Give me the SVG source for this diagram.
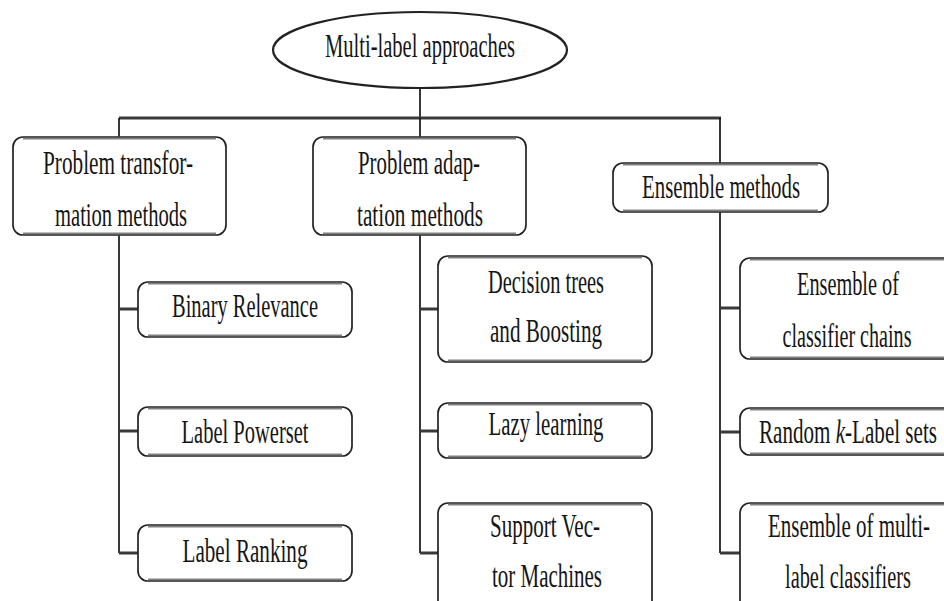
<svg xmlns="http://www.w3.org/2000/svg" width="944" height="601" viewBox="0 0 944 601">
<style>
.box{fill:#fff;stroke:#222;stroke-width:1.7}
.edge{stroke:#555;stroke-width:3.2;stroke-opacity:.75;fill:none}
.t{font-family:"Liberation Serif","DejaVu Serif",serif;font-size:34px;fill:#151515;text-anchor:middle}
.v{stroke:#151515;stroke-width:1.7;fill:none}
.h{stroke:#3a3a3a;stroke-width:3;fill:none}
</style>
<rect width="944" height="601" fill="#fff"/>
<g id="connectors">
<path class="v" d="M420 88V118"/>
<path class="h" d="M119 118H721"/>
<path class="v" d="M119 118V137M420 118V137M720 118V163"/>
<path class="v" d="M119 235V553M420 235V553M720 212V553"/>
<path class="h" d="M119 309H138M119 431H138M119 553H138"/>
<path class="h" d="M420 309H438M420 431H438M420 553H438"/>
<path class="h" d="M720 308H740M720 432H740M720 553H740"/>
</g>
<g id="root">
<ellipse cx="420" cy="50" rx="147" ry="38" fill="#fff" stroke="#222" stroke-width="2.2"/>
<text class="t" x="420" y="57" textLength="190" lengthAdjust="spacingAndGlyphs">Multi-label approaches</text>
</g>
<g id="problem-transformation">
<rect class="box" x="13" y="137" width="213" height="98" rx="10"/>
<path class="edge" d="M23 138H216M23 234H216"/>
<text class="t" x="118" y="174" textLength="150" lengthAdjust="spacingAndGlyphs">Problem transfor-</text>
<text class="t" x="121" y="226" textLength="132" lengthAdjust="spacingAndGlyphs">mation methods</text>
</g>
<g id="problem-adaptation">
<rect class="box" x="313" y="137" width="213" height="98" rx="10"/>
<path class="edge" d="M323 138H516M323 234H516"/>
<text class="t" x="419" y="174" textLength="122" lengthAdjust="spacingAndGlyphs">Problem adap-</text>
<text class="t" x="420" y="226" textLength="126" lengthAdjust="spacingAndGlyphs">tation methods</text>
</g>
<g id="ensemble-methods">
<rect class="box" x="613" y="163" width="215" height="49" rx="10"/>
<path class="edge" d="M623 164H818M623 211H818"/>
<text class="t" x="721" y="198" textLength="158" lengthAdjust="spacingAndGlyphs">Ensemble methods</text>
</g>
<g id="binary-relevance">
<rect class="box" x="138" y="282" width="214" height="55" rx="10"/>
<path class="edge" d="M148 283H342M148 336H342"/>
<text class="t" x="245" y="317" textLength="146" lengthAdjust="spacingAndGlyphs">Binary Relevance</text>
</g>
<g id="label-powerset">
<rect class="box" x="138" y="407" width="214" height="49" rx="10"/>
<path class="edge" d="M148 408H342M148 455H342"/>
<text class="t" x="245" y="443" textLength="127" lengthAdjust="spacingAndGlyphs">Label Powerset</text>
</g>
<g id="label-ranking">
<rect class="box" x="138" y="525" width="214" height="56" rx="10"/>
<path class="edge" d="M148 526H342M148 580H342"/>
<text class="t" x="245" y="562" textLength="125" lengthAdjust="spacingAndGlyphs">Label Ranking</text>
</g>
<g id="decision-trees">
<rect class="box" x="438" y="256" width="214" height="106" rx="10"/>
<path class="edge" d="M448 257H642M448 361H642"/>
<text class="t" x="546" y="293" textLength="116" lengthAdjust="spacingAndGlyphs">Decision trees</text>
<text class="t" x="546" y="342" textLength="112" lengthAdjust="spacingAndGlyphs">and Boosting</text>
</g>
<g id="lazy-learning">
<rect class="box" x="438" y="403" width="214" height="55" rx="10"/>
<path class="edge" d="M448 404H642M448 457H642"/>
<text class="t" x="546" y="435" textLength="115" lengthAdjust="spacingAndGlyphs">Lazy learning</text>
</g>
<g id="support-vector-machines">
<rect class="box" x="438" y="503" width="214" height="110" rx="10"/>
<path class="edge" d="M448 504H642"/>
<text class="t" x="545" y="537" textLength="110" lengthAdjust="spacingAndGlyphs">Support Vec-</text>
<text class="t" x="547" y="587" textLength="110" lengthAdjust="spacingAndGlyphs">tor Machines</text>
</g>
<g id="ensemble-classifier-chains">
<rect class="box" x="740" y="258" width="214" height="101" rx="10"/>
<path class="edge" d="M750 259H944M750 358H944"/>
<text class="t" x="848" y="295" textLength="102" lengthAdjust="spacingAndGlyphs">Ensemble of</text>
<text class="t" x="847" y="347" textLength="129" lengthAdjust="spacingAndGlyphs">classifier chains</text>
</g>
<g id="random-k-label-sets">
<rect class="box" x="740" y="408" width="214" height="47" rx="10"/>
<path class="edge" d="M750 409H944M750 454H944"/>
<text class="t" x="848" y="443" textLength="178" lengthAdjust="spacingAndGlyphs">Random <tspan font-style="italic">k</tspan>-Label sets</text>
</g>
<g id="ensemble-multi-label">
<rect class="box" x="740" y="503" width="214" height="110" rx="10"/>
<path class="edge" d="M750 504H944"/>
<text class="t" x="849" y="537" textLength="162" lengthAdjust="spacingAndGlyphs">Ensemble of multi-</text>
<text class="t" x="848" y="588" textLength="126" lengthAdjust="spacingAndGlyphs">label classifiers</text>
</g>
</svg>
